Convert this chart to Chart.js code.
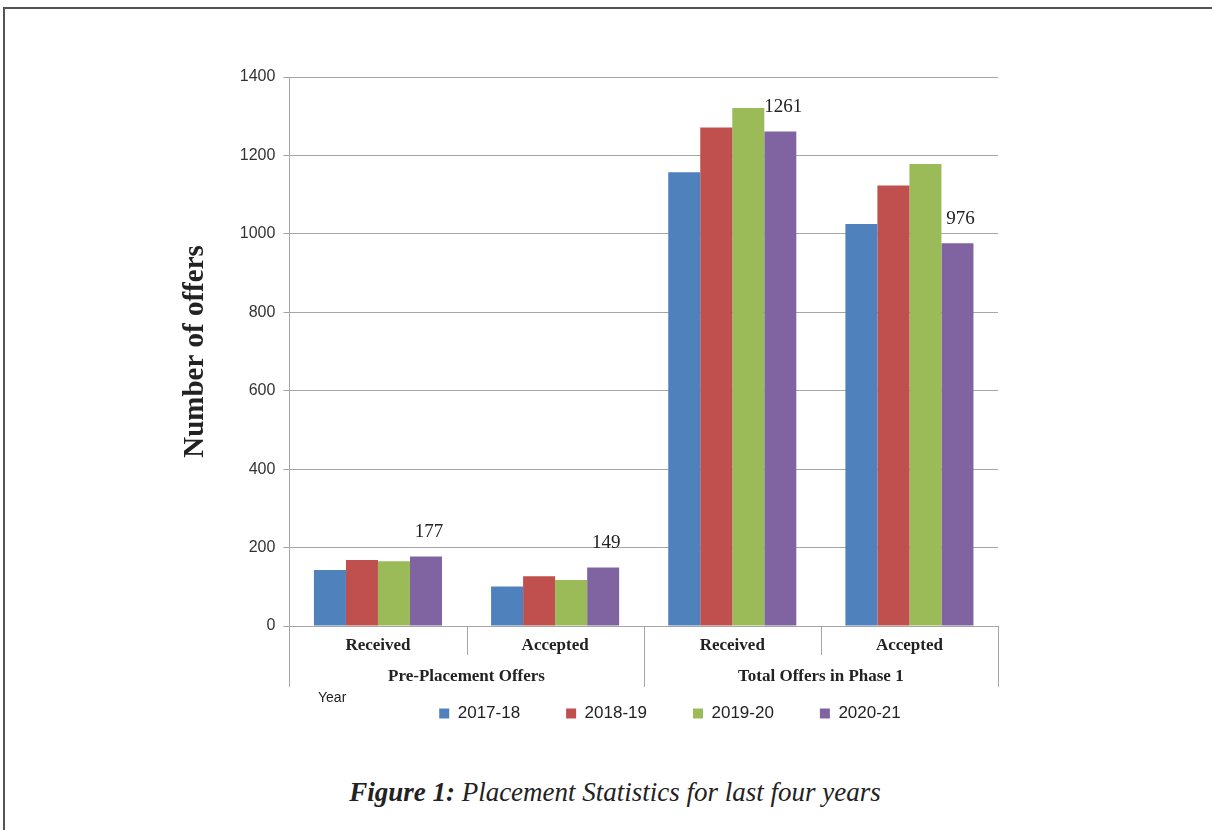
<!DOCTYPE html>
<html>
<head>
<meta charset="utf-8">
<script src="https://cdn.jsdelivr.net/npm/chart.js@4"></script>
<style>
    html, body { margin: 0; padding: 0; background: #fff; }
    body { width: 1212px; height: 830px; position: relative; overflow: hidden; }
    #moldura { position: absolute; left: 3px; top: 7px; right: -5px; bottom: -5px; border-top: 2px solid #555; border-left: 2px solid #555; }
    #caixa { position: absolute; left: 150px; top: 0; width: 1052px; height: 760px; }
    #ano { position: absolute; left: 318px; top: 689px; font: 14px "Liberation Sans", Arial, sans-serif; color: #222; }
    #legenda-figura { position: absolute; left: 0; width: 1230px; top: 777px; text-align: center; font: italic 27px "Liberation Serif", serif; color: #222; }
</style>
</head>
<body>
<div id="moldura"></div>
<div id="caixa"><canvas id="meuGrafico"></canvas></div>
<div id="ano">Year</div>
<div id="legenda-figura"><b>Figure 1:</b> Placement Statistics for last four years</div>
<script>
var categorias = ['Received', 'Accepted', 'Received', 'Accepted'];
var grupos = ['Pre-Placement Offers', 'Total Offers in Phase 1'];
var anos = ['2017-18', '2018-19', '2019-20', '2020-21'];
var valores2017 = [143, 101, 1157, 1025];
var valores2018 = [168, 127, 1271, 1123];
var valores2019 = [165, 117, 1321, 1178];
var valores2020 = [177, 149, 1261, 976];
var cores = ['#4F81BD', '#C0504D', '#9BBB59', '#8064A2'];

var series = [valores2017, valores2018, valores2019, valores2020];
var datasets = series.map(function (valores, i) {
    return {
        label: anos[i],
        data: valores,
        backgroundColor: cores[i],
        borderWidth: 0,
        barPercentage: 1,
        categoryPercentage: 0.723
    };
});

var corGrade = '#a6a6a6';

// rotulos so na ultima serie, como no original
var rotulosUltimaSerie = {
    id: 'rotulosUltimaSerie',
    afterDatasetsDraw: function (chart) {
        var ctx = chart.ctx;
        var meta = chart.getDatasetMeta(chart.data.datasets.length - 1);
        ctx.save();
        ctx.font = '19px "Liberation Serif", serif';
        ctx.fillStyle = '#222';
        ctx.textAlign = 'center';
        ctx.textBaseline = 'bottom';
        meta.data.forEach(function (barra, i) {
            ctx.fillText(valores2020[i], barra.x + 3, barra.y - 15);
        });
        ctx.restore();
    }
};

// linhas separadoras do eixo de categorias em dois niveis
var separadores = {
    id: 'separadores',
    afterDraw: function (chart) {
        var x = chart.scales.x;
        var x2 = chart.scales.x2;
        var n = categorias.length;
        var largura = (x.right - x.left) / n;
        var porGrupo = n / grupos.length;
        var ctx = chart.ctx;
        ctx.save();
        ctx.strokeStyle = corGrade;
        ctx.lineWidth = 1;
        for (var i = 0; i <= n; i++) {
            var px = Math.round(x.left + i * largura) + 0.5;
            var fim = (i % porGrupo === 0) ? x2.bottom : x.bottom;
            ctx.beginPath();
            ctx.moveTo(px, x.top);
            ctx.lineTo(px, fim);
            ctx.stroke();
        }
        ctx.restore();
    }
};

// legenda deslocada para ficar como no original
var posicaoLegenda = {
    id: 'posicaoLegenda',
    beforeDraw: function (chart) {
        var l = chart.legend;
        l.left += 82; l.right += 82;
        l.top -= 28; l.bottom -= 28;
    }
};

var fonteCategoria = { family: '"Liberation Serif", serif', size: 17, weight: 'bold' };

new Chart(document.getElementById('meuGrafico'), {
    type: 'bar',
    data: { labels: categorias, datasets: datasets },
    plugins: [rotulosUltimaSerie, separadores, posicaoLegenda],
    options: {
        responsive: true,
        maintainAspectRatio: false,
        animation: false,
        layout: { padding: { left: 28, right: 204, top: 77, bottom: 0 } },
        plugins: {
            tooltip: { enabled: false },
            legend: {
                position: 'bottom',
                labels: {
                    boxWidth: 10,
                    boxHeight: 10,
                    padding: 46,
                    color: '#222',
                    font: { family: '"Liberation Sans", Arial, sans-serif', size: 17 }
                }
            }
        },
        scales: {
            x: {
                offset: true,
                grid: { display: false, drawTicks: false },
                border: { color: corGrade },
                ticks: { padding: 9, color: '#222', font: fonteCategoria },
                afterFit: function (scale) { scale.height = 29; }
            },
            x2: {
                type: 'category',
                labels: grupos,
                position: 'bottom',
                offset: true,
                grid: { display: false, drawTicks: false },
                border: { display: false },
                ticks: { padding: 11, color: '#222', font: fonteCategoria },
                afterFit: function (scale) { scale.height = 32; }
            },
            y: {
                min: 0,
                max: 1400,
                ticks: {
                    stepSize: 200,
                    padding: 8,
                    color: '#333',
                    font: { family: '"Liberation Sans", Arial, sans-serif', size: 16 },
                    callback: function (v) { return String(v); }
                },
                grid: { color: corGrade, tickLength: 6 },
                border: { color: corGrade },
                title: {
                    display: true,
                    text: 'Number of offers',
                    color: '#222',
                    padding: { top: 0, bottom: 19 },
                    font: { family: '"Liberation Serif", serif', size: 29, weight: 'bold' }
                }
            }
        }
    }
});
</script>
</body>
</html>
